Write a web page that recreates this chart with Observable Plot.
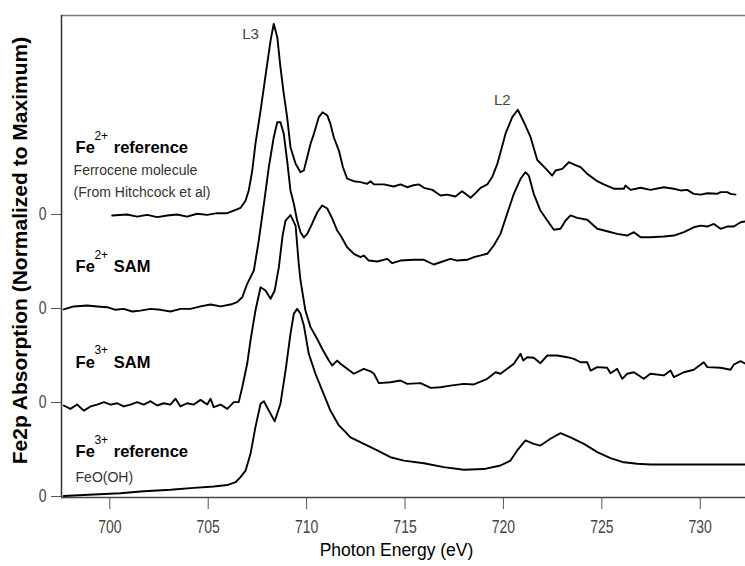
<!DOCTYPE html>
<html><head><meta charset="utf-8">
<script src="https://cdn.jsdelivr.net/npm/d3@7"></script>
<script src="https://cdn.jsdelivr.net/npm/@observablehq/plot@0.6"></script>
<style>
body{margin:0;background:#fff;}
#chart svg{display:block;}
</style></head><body><div id="chart"></div>
<script>
// ---- data (photon energy in eV, absorption normalized to maximum) ----
const seriesNames = ["Fe2+ reference", "Fe2+ SAM", "Fe3+ SAM", "Fe3+ reference"];
const offsets = [1.5, 1.0, 0.5, 0];

const energyFe2Ref = [700.12,700.88,701.39,701.90,702.41,702.92,703.42,703.93,704.44,704.95,705.46,705.97,706.30,706.64,706.90,707.06,707.24,707.40,707.66,707.83,708.00,708.17,708.33,708.51,708.67,708.84,709.01,709.18,709.44,709.69,709.86,710.03,710.20,710.37,710.62,710.81,711.05,711.21,711.38,711.64,711.85,712.06,712.40,712.74,713.08,713.25,713.42,713.93,714.43,714.77,715.11,715.37,715.71,715.96,716.39,716.80,717.14,717.56,717.90,718.07,718.33,718.58,718.84,719.18,719.43,719.69,720.11,720.45,720.73,721.04,721.38,721.72,722.14,722.48,722.65,722.99,723.32,723.58,723.92,724.26,724.77,725.10,725.61,726.12,726.20,726.46,726.97,727.47,728.15,728.66,729.00,729.34,729.67,730.02,730.36,730.86,731.03,731.37,731.54,731.79];
const absFe2Ref = [-0.005,0.000,-0.011,-0.002,-0.014,-0.005,0.000,-0.011,0.004,-0.002,0.007,0.007,0.021,0.035,0.074,0.128,0.234,0.376,0.553,0.677,0.802,0.926,1.014,0.943,0.784,0.642,0.518,0.358,0.270,0.225,0.234,0.305,0.376,0.429,0.518,0.544,0.527,0.482,0.411,0.340,0.250,0.191,0.177,0.172,0.163,0.177,0.160,0.160,0.149,0.160,0.145,0.154,0.160,0.142,0.131,0.101,0.106,0.096,0.124,0.110,0.089,0.114,0.142,0.160,0.199,0.269,0.431,0.518,0.557,0.491,0.411,0.290,0.245,0.207,0.234,0.243,0.278,0.266,0.252,0.216,0.177,0.160,0.137,0.137,0.154,0.131,0.142,0.131,0.145,0.137,0.128,0.131,0.110,0.106,0.113,0.110,0.119,0.119,0.110,0.106];

const energyFe2Sam = [697.66,698.17,698.85,699.36,699.87,700.29,700.71,701.14,701.56,702.07,702.58,703.08,703.60,704.10,704.61,705.12,705.63,706.13,706.47,706.73,706.98,707.32,707.57,707.83,708.08,708.33,708.51,708.67,708.84,709.01,709.18,709.35,709.52,709.69,709.86,710.03,710.28,710.54,710.79,711.05,711.30,711.55,711.72,712.06,712.40,712.74,712.91,713.16,713.59,714.10,714.35,714.77,715.45,715.96,716.46,716.80,717.31,717.65,718.16,718.50,719.00,719.18,719.51,719.85,720.19,720.53,720.87,721.12,721.29,721.54,721.88,722.23,722.56,722.90,723.16,723.41,723.75,724.26,724.77,725.27,725.78,726.29,726.63,726.97,727.47,728.15,728.66,729.17,729.67,730.02,730.36,730.69,731.03,731.37,731.71,732.05,732.30];
const absFe2Sam = [-0.005,0.011,0.016,0.011,0.007,-0.007,-0.002,-0.016,-0.011,-0.002,-0.007,-0.016,-0.002,-0.002,0.011,0.021,0.011,0.021,0.034,0.060,0.131,0.202,0.362,0.557,0.752,0.911,0.991,0.991,0.929,0.787,0.628,0.557,0.468,0.406,0.378,0.397,0.451,0.512,0.548,0.532,0.479,0.415,0.390,0.326,0.291,0.273,0.282,0.255,0.250,0.264,0.241,0.255,0.259,0.259,0.234,0.246,0.264,0.255,0.259,0.273,0.287,0.291,0.335,0.397,0.504,0.610,0.690,0.725,0.707,0.610,0.521,0.468,0.419,0.424,0.468,0.495,0.482,0.472,0.424,0.411,0.397,0.388,0.406,0.379,0.379,0.383,0.388,0.406,0.432,0.441,0.436,0.450,0.424,0.436,0.436,0.459,0.463];

const energyFe3Sam = [697.66,698.00,698.34,698.68,699.02,699.36,699.70,700.04,700.38,700.71,701.05,701.39,701.73,702.07,702.41,702.74,703.08,703.34,703.59,703.93,704.27,704.61,704.95,705.12,705.28,705.63,705.97,706.30,706.55,706.73,706.98,707.15,707.40,707.66,707.91,708.17,708.38,708.59,708.78,708.93,709.18,709.44,709.60,709.69,709.94,710.20,710.54,710.79,711.13,711.30,711.55,711.72,712.06,712.40,712.91,713.25,713.42,713.67,714.26,714.77,715.11,715.79,716.30,716.80,717.31,717.99,718.50,719.18,719.60,719.85,720.19,720.53,720.87,721.01,721.21,721.54,721.88,722.23,722.73,723.24,723.58,723.92,724.26,724.43,724.77,725.27,725.44,725.78,726.04,726.29,726.63,727.13,727.47,728.15,728.49,728.66,729.17,729.67,730.18,730.36,731.03,731.54,731.71,732.05,732.30];
const absFe3Sam = [-0.016,-0.034,-0.011,-0.043,-0.021,-0.011,0.002,-0.011,-0.004,-0.021,-0.011,0.002,-0.011,0.007,-0.016,-0.004,-0.011,0.020,-0.021,-0.004,-0.011,0.014,-0.011,0.020,-0.025,-0.011,-0.034,0.002,0.002,0.081,0.206,0.330,0.489,0.613,0.596,0.552,0.596,0.720,0.888,0.968,0.997,0.941,0.738,0.649,0.489,0.401,0.338,0.286,0.223,0.197,0.223,0.206,0.179,0.153,0.179,0.166,0.153,0.103,0.108,0.117,0.099,0.103,0.078,0.081,0.090,0.099,0.096,0.126,0.161,0.153,0.179,0.206,0.259,0.223,0.241,0.238,0.209,0.250,0.250,0.241,0.232,0.214,0.214,0.170,0.188,0.185,0.156,0.179,0.126,0.153,0.161,0.126,0.153,0.144,0.170,0.135,0.161,0.174,0.214,0.188,0.185,0.174,0.202,0.220,0.206];

const energyFe3Ref = [697.66,699.19,700.54,701.73,703.08,704.27,705.28,705.97,706.39,706.64,706.90,707.15,707.40,707.66,707.83,708.08,708.38,708.67,708.93,709.18,709.35,709.52,709.69,709.86,710.11,710.45,710.79,711.21,711.64,711.98,712.23,712.91,713.59,714.26,714.94,715.96,716.97,717.99,719.00,719.85,720.36,720.70,721.12,721.54,721.88,722.39,722.90,723.41,724.09,724.77,725.44,726.12,726.80,727.47,732.30];
const absFe3Ref = [0.003,0.011,0.017,0.028,0.036,0.046,0.053,0.061,0.076,0.103,0.138,0.227,0.369,0.493,0.507,0.457,0.400,0.493,0.670,0.865,0.972,0.998,0.972,0.910,0.759,0.653,0.564,0.457,0.378,0.342,0.314,0.280,0.245,0.209,0.191,0.177,0.156,0.142,0.146,0.165,0.191,0.245,0.298,0.280,0.271,0.307,0.337,0.315,0.280,0.236,0.204,0.182,0.174,0.170,0.170];

const xTicks = [700, 705, 710, 715, 720, 725, 730];
const yTicks = [0, 0.5, 1.0, 1.5];
const yTickLabels = ["0", "0", "0", "0"];

const ionText = ["Fe", "Fe", "Fe", "Fe"];
const chargeText = ["2+", "2+", "3+", "3+"];
const kindText = ["reference", "SAM", "SAM", "reference"];
const noteText = ["Ferrocene molecule", "(From Hitchcock et al)", "FeO(OH)"];
const peakText = ["L3", "L2"];
const xLabel = "Photon Energy (eV)";
const yLabel = "Fe2p Absorption (Normalized to Maximum)";

// ---- build table ----
const energies = [energyFe2Ref, energyFe2Sam, energyFe3Sam, energyFe3Ref];
const values = [absFe2Ref, absFe2Sam, absFe3Sam, absFe3Ref];
const rows = [];
seriesNames.forEach((name, i) => {
  energies[i].forEach((e, j) => rows.push({series: name, energy: e, y: values[i][j] + offsets[i]}));
});

// annotation layout (data coordinates)
const labelY = [1.856, 1.220, 0.714, 0.236];
const ionRows = ionText.map((t, i) => ({t, x: 698.26, y: labelY[i]}));
const chargeRows = chargeText.map((t, i) => ({t, x: 699.22, y: labelY[i] + 0.063}));
const kindRows = kindText.map((t, i) => ({t, x: 700.2, y: labelY[i]}));
const noteRows = [
  {t: noteText[0], x: 698.16, y: 1.734},
  {t: noteText[1], x: 698.16, y: 1.617},
  {t: noteText[2], x: 698.26, y: 0.103}
];
const peakRows = [
  {t: peakText[0], x: 707.15, y: 2.457},
  {t: peakText[1], x: 719.94, y: 2.106}
];

const xMin = 697.546, xMax = 732.30, yMin = -0.0053, yMax = 2.5585;
const font = "'Liberation Sans', Arial, sans-serif";

const chart = Plot.plot({
  width: 745, height: 566,
  marginTop: 15, marginLeft: 61, marginRight: 0, marginBottom: 69,
  x: {domain: [xMin, xMax]},
  y: {domain: [yMin, yMax]},
  style: {fontFamily: font, background: "#fff", color: "#000"},
  marks: [
    Plot.ruleY([yMax], {stroke: "#777", strokeWidth: 1.5}),
    Plot.axisX({ticks: xTicks, tickSize: 12, tickPadding: 11, fontSize: 17.5, stroke: "#555", fill: "#444", label: null}),
    Plot.axisY({ticks: yTicks, tickFormat: d => yTickLabels[yTicks.indexOf(d)], tickSize: 10, tickPadding: 5, fontSize: 17.5, stroke: "#555", fill: "#444", label: null}),
    Plot.ruleX([xMin], {stroke: "#333", strokeWidth: 1.5}),
    Plot.ruleY([yMin], {stroke: "#444", strokeWidth: 1.5}),
    Plot.line(rows, {x: "energy", y: "y", z: "series", stroke: "#000", strokeWidth: 1.9, strokeLinejoin: "round"}),
    Plot.text(ionRows, {x: "x", y: "y", text: "t", textAnchor: "start", fontWeight: "bold", fontSize: 16.5, fill: "#000"}),
    Plot.text(chargeRows, {x: "x", y: "y", text: "t", textAnchor: "start", fontSize: 12, fill: "#000"}),
    Plot.text(kindRows, {x: "x", y: "y", text: "t", textAnchor: "start", fontWeight: "bold", fontSize: 16.5, fill: "#000"}),
    Plot.text(noteRows, {x: "x", y: "y", text: "t", textAnchor: "start", fontSize: 14, fill: "#333"}),
    Plot.text(peakRows, {x: "x", y: "y", text: "t", fontSize: 15, fill: "#444"}),
    Plot.text([xLabel], {frameAnchor: "bottom", textAnchor: "middle", dx: -7, dy: 58, fontSize: 17.5, fill: "#000"}),
    Plot.text([yLabel], {frameAnchor: "left", textAnchor: "middle", dx: -41, dy: -6, rotate: -90, fontSize: 21, fontWeight: "bold", fill: "#000"})
  ]
});
document.getElementById("chart").append(chart);
// condensed tick digits, as in the reference
d3.select(chart)
  .selectAll('g[aria-label="x-axis tick label"] text, g[aria-label="y-axis tick label"] text')
  .each(function () {
    const k = 0.8;
    const x = +(this.getAttribute("x") || 0);
    const t = this.getAttribute("transform") || "";
    this.setAttribute("x", x / k);
    this.setAttribute("transform", (t + " scale(" + k + ",1)").trim());
  });
</script></body></html>
